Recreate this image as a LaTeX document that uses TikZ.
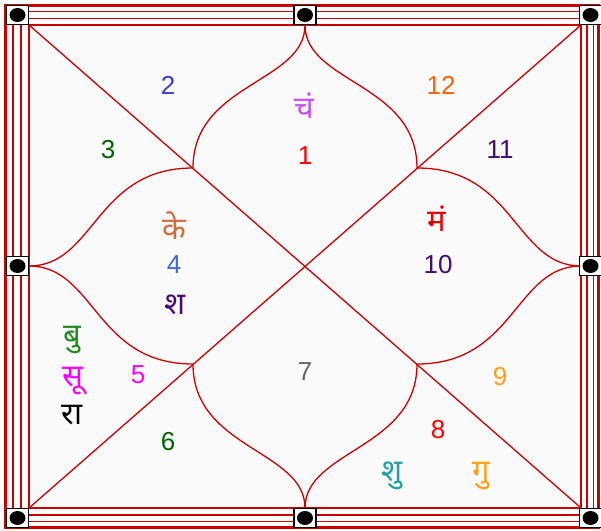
\documentclass[tikz,border=0pt]{standalone}
\usepackage{fontspec}
\setmainfont{Liberation Sans}
\newfontfamily\deva[Script=Devanagari]{Noto Sans}
\definecolor{chartred}{RGB}{204,0,0}
\definecolor{lilac}{RGB}{200,80,255}
\definecolor{housblue}{RGB}{60,60,210}
\definecolor{ketu}{RGB}{210,110,60}
\definecolor{indigo}{RGB}{70,10,120}
\definecolor{dgreen}{RGB}{0,100,0}
\definecolor{fgreen}{RGB}{34,139,34}
\definecolor{orng}{RGB}{255,100,0}
\definecolor{gold}{RGB}{255,160,20}
\definecolor{tealc}{RGB}{32,160,160}
\definecolor{rblue}{RGB}{65,105,215}
\definecolor{pinkm}{RGB}{255,0,255}
\usetikzlibrary{positioning}

\begin{document}
\begin{tikzpicture}[x=1pt,y=-1pt,
  frameline/.style={chartred,line width=1.7pt},
  chartline/.style={chartred,line width=1.3pt},
  peg/.style={draw=black,fill=white,line width=1.6pt,minimum width=22pt,minimum height=19pt,inner sep=0pt,
    path picture={\fill[black] (path picture bounding box.center) ellipse [x radius=8pt,y radius=7pt];}},
  num/.style={inner sep=0pt,font=\fontsize{26}{30}\selectfont},
  graha/.style={inner sep=0pt,font=\fontsize{31}{34}\selectfont\deva}]
  \useasboundingbox (0,0) rectangle (601,530);
  \fill[white] (0,0) rectangle (601,530);
  \fill[black!2] (29,25) rectangle (581,508);
  % border
  \draw[chartred,line width=3pt] (5.5,5) rectangle (598.5,527);
  \draw[frameline] (13,11.5) rectangle (593.5,521.5);
  \draw[frameline] (21,18.5) rectangle (587,515);
  \draw[chartline] (29,25) rectangle (581,508);
  % chart points
  \coordinate (tl) at (29,25);  \coordinate (tr) at (581,25);
  \coordinate (bl) at (29,508); \coordinate (br) at (581,508);
  \coordinate (t) at (305,25);  \coordinate (b) at (305,508);
  \coordinate (l) at (29,266);  \coordinate (r) at (581,266);
  \coordinate (p1) at (193,168); \coordinate (p2) at (417,168);
  \coordinate (p3) at (193,364); \coordinate (p4) at (417,364);
  \draw[chartline] (tl) -- (br);
  \draw[chartline] (tr) -- (bl);
  \draw[chartline] (t) .. controls +(0,58) and +(0,-85) .. (p1);
  \draw[chartline] (t) .. controls +(0,58) and +(0,-85) .. (p2);
  \draw[chartline] (b) .. controls +(0,-58) and +(0,85) .. (p3);
  \draw[chartline] (b) .. controls +(0,-58) and +(0,85) .. (p4);
  \draw[chartline] (l) .. controls +(66,0) and +(-98,0) .. (p1);
  \draw[chartline] (l) .. controls +(66,0) and +(-98,0) .. (p3);
  \draw[chartline] (r) .. controls +(-66,0) and +(98,0) .. (p2);
  \draw[chartline] (r) .. controls +(-66,0) and +(98,0) .. (p4);
  % pegs
  \foreach \n/\p in {ptl/{17.5,15},pt/{305,15},ptr/{590.5,15},pl/{17.5,266},pr/{590.5,266},pbl/{17.5,518},pb/{305,518},pbr/{590.5,518}}
    \node[peg] (\n) at (\p) {};
  % houses
  \node[num,housblue] (h2) at (168,85) {2};
  \node[num,dgreen] (h3) at (108,150) {3};
  \node[num,red] (h1) at (305,156) {1};
  \node[num,orng] (h12) at (441,85) {12};
  \node[num,indigo] (h11) at (500,150) {11};
  \node[num,rblue] (h4) at (174,265) {4};
  \node[num,indigo] (h10) at (438,265) {10};
  \node[num,pinkm] (h5) at (138,375) {5};
  \node[num,black!60] (h7) at (305,372) {7};
  \node[num,gold] (h9) at (500,377) {9};
  \node[num,dgreen] (h6) at (168,442) {6};
  \node[num,red] (h8) at (438,430) {8};
  % grahas
  \node[graha,lilac] (ch) at (304,106) {चं};
  \node[graha,ketu] (ke) at (174,226) {के};
  \node[graha,indigo] (sha) at (175,305) {श};
  \node[graha,red!90!black] (ma) at (437,219) {मं};
  \node[graha,fgreen] (bu) at (72,340) {बु};
  \node[graha,pinkm] (su) at (73,381) {सू};
  \node[graha,black] (ra) at (72,415) {रा};
  \node[graha,tealc] (shu) at (392,476) {शु};
  \node[graha,gold] (gu) at (481,476) {गु};
\end{tikzpicture}
\end{document}
